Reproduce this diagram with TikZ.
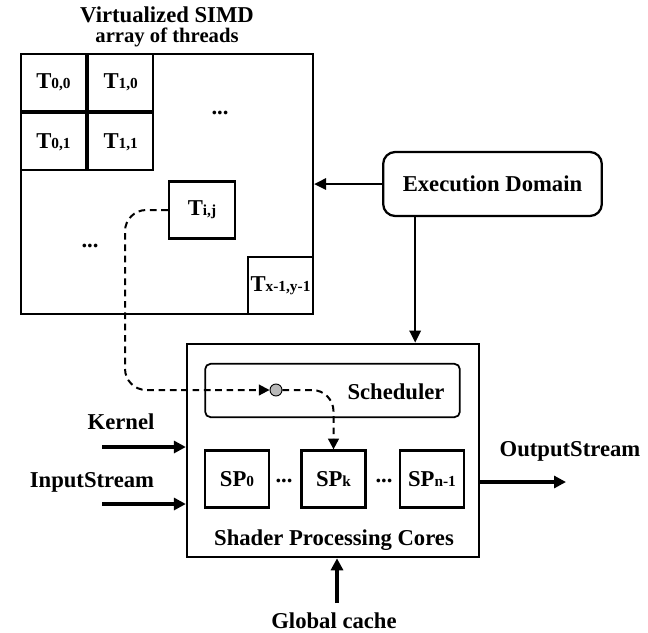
\documentclass[tikz,border=0pt]{standalone}
\usepackage{fontspec}
\setmainfont{Liberation Serif}
\usepackage{xcolor}
\usepackage{tikz}
\usetikzlibrary{arrows.meta, positioning, calc}

\newcommand{\lbl}[2]{#1{\fontsize{11.5}{11.5}\selectfont #2}}

\begin{document}
\begin{tikzpicture}[
    x=0.75pt, y=-0.75pt,
    % ── boxes ──
    cellBox/.style   = {draw=black, line width=1.7pt, inner sep=0pt,
                        minimum width=48.75pt, minimum height=42.75pt,
                        font=\fontsize{17}{18}\selectfont\bfseries},
    bigBox/.style    = {draw=black, line width=1.7pt, inner sep=0pt},
    roundBox/.style  = {draw=black, line width=1.7pt, inner sep=0pt,
                        rounded corners=9pt},
    dispDot/.style   = {circle, draw=black, fill=gray!55, line width=0.7pt,
                        inner sep=0pt, minimum size=9pt},
    % ── arrows ──
    arr/.style       = {-{Triangle[length=9pt, width=8.5pt]},
                        line width=1.5pt},
    ioArr/.style     = {-{Triangle[length=9pt, width=9pt]},
                        line width=2.5pt},
    dashArr/.style   = {-{Triangle[length=8pt, width=8pt]}, line width=1.5pt,
                        dash pattern=on 5pt off 3.5pt, rounded corners=16pt},
    % ── text styles ──
    mainLabel/.style = {font=\fontsize{17}{18}\selectfont\bfseries,
                        align=center, inner sep=0pt},
    dotsLabel/.style = {font=\fontsize{17}{18}\selectfont\bfseries,
                        inner sep=0pt},
]
\useasboundingbox (0,0) rectangle (648,632);

% =====================================================================
% Thread array   (x = 21 – 313)
% =====================================================================
\node[mainLabel] (title) at (167,27)
  {Virtualized SIMD\\[-3pt]{\fontsize{15.5}{16}\selectfont array of threads}};
\node[bigBox, minimum width=219pt, minimum height=195pt] (grid) at (167,184) {};

\node[cellBox] (t00) at (53.5,82.5) {\lbl{T}{0,0}};
\node[cellBox, right=0pt of t00] (t10) {\lbl{T}{1,0}};
\node[cellBox, below=0pt of t00] (t01) {\lbl{T}{0,1}};
\node[cellBox, right=0pt of t01] (t11) {\lbl{T}{1,1}};

\node[dotsLabel] (dotsA) at (220,113) {...};
\node[dotsLabel] (dotsB) at (90,246) {...};

\node[cellBox, minimum width=49.5pt] (tij) at (202,210) {\lbl{T}{i,j}};
\node[cellBox] (tlast) at (280.5,285.5) {\lbl{T}{x-1,y-1}};

% =====================================================================
% Execution domain
% =====================================================================
\node[roundBox, mainLabel, minimum width=164pt, minimum height=48pt] (exec)
  at (492.5,184) {Execution Domain};
\coordinate (execDown) at ($(exec.south west)!0.15!(exec.south east)$);

% =====================================================================
% Shader processing cores   (x = 187 – 479)
% =====================================================================
\node[bigBox, minimum width=219pt, minimum height=160pt] (shader) at (333,450.5) {};
\node[bigBox, rounded corners=4pt, line width=1.3pt,
      minimum width=191pt, minimum height=40pt] (sched) at (332.5,390.5) {};
\node[mainLabel] (schedTxt) at (396,392) {Scheduler};
\node[dispDot] (disp) at (276,390) {};

\node[cellBox, minimum width=48pt] (sp0) at (237,479) {\lbl{SP}{0}};
\node[cellBox, minimum width=48pt] (spk) at (333.5,479) {\lbl{SP}{k}};
\node[cellBox, minimum width=48pt] (spn) at (432,479) {\lbl{SP}{n-1}};
\node[dotsLabel] (dotsC) at (284,481) {...};
\node[dotsLabel] (dotsD) at (384,481) {...};
\node[mainLabel] (coresTxt) at (334,540) {Shader Processing Cores};

% =====================================================================
% Inputs / outputs
% =====================================================================
\node[mainLabel] (kernel) at (121,422) {Kernel};
\node[mainLabel] (input)  at (92,482)  {InputStream};
\node[mainLabel] (output) at (570,451) {OutputStream};
\node[mainLabel] (cache)  at (334,621) {Global cache};

\coordinate (kernelIn) at (102,447);
\coordinate (inputIn)  at (102,504);
\coordinate (outEnd)   at (566,482);
\coordinate (cacheIn)  at (337,603);

\draw[ioArr] (kernelIn) -- (kernelIn -| shader.west);
\draw[ioArr] (inputIn)  -- (inputIn -| shader.west);
\draw[ioArr] (outEnd -| shader.east) -- (outEnd);
\draw[ioArr] (cacheIn) -- (cacheIn |- shader.south);

% =====================================================================
% Control arrows
% =====================================================================
\draw[arr] (exec.west) -- (exec.west -| grid.east);
\draw[arr] (execDown) -- (execDown |- shader.north);

% thread dispatch path
\coordinate (bend) at (125,300);
\draw[dashArr] (tij.west) -| (bend) |- (disp.west);
\draw[dashArr] (disp.east) -| (spk.north);

\end{tikzpicture}
\end{document}
